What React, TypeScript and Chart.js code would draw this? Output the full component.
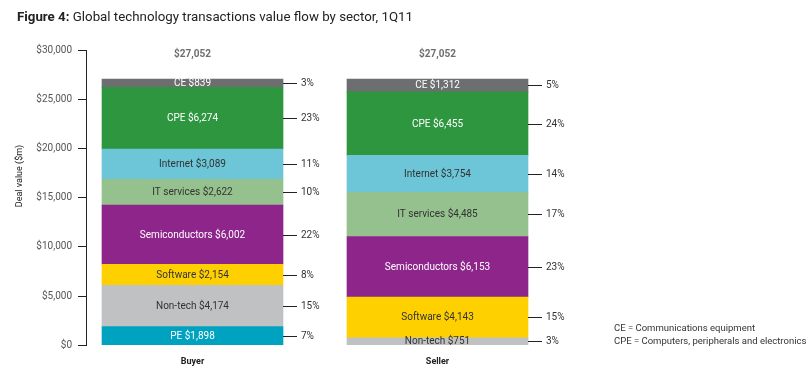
import React, { useEffect, useRef } from 'react';
import { Chart, registerables } from 'chart.js';

Chart.register(...registerables);

// ---- data ----
const sides = ['Buyer', 'Seller'];
const sectorNames = ['PE', 'Non-tech', 'Software', 'Semiconductors', 'IT services', 'Internet', 'CPE', 'CE'];
const peValues = [1898, null];
const nonTechValues = [4174, 751];
const softwareValues = [2154, 4143];
const semisValues = [6002, 6153];
const itServicesValues = [2622, 4485];
const internetValues = [3089, 3754];
const cpeValues = [6274, 6455];
const ceValues = [839, 1312];

const pePct = [7, null];
const nonTechPct = [15, 3];
const softwarePct = [8, 15];
const semisPct = [22, 23];
const itServicesPct = [10, 17];
const internetPct = [11, 14];
const cpePct = [23, 24];
const cePct = [3, 5];

const totals = [27052, 27052];
const yMin = 0;
const yMax = 30000;
const yStep = 5000;

const seriesValues = [peValues, nonTechValues, softwareValues, semisValues, itServicesValues, internetValues, cpeValues, ceValues];
const seriesPct = [pePct, nonTechPct, softwarePct, semisPct, itServicesPct, internetPct, cpePct, cePct];

// ---- styles ----
const fillColors = ['#00a3bf', '#c0c1c3', '#ffd000', '#8e258b', '#94c18d', '#6dc6d8', '#2e963f', '#6d6e70'];
const textColors = ['#ffffff', '#333333', '#333333', '#ffffff', '#333333', '#333333', '#ffffff', '#ffffff'];
const FONT = 'Roboto, "Open Sans", sans-serif';

const fmt = (v: number) => '$' + v.toLocaleString('en-US');

const labelPlugin = {
  id: 'barLabels',
  afterDatasetsDraw(chart: any) {
    const ctx = chart.ctx as CanvasRenderingContext2D;
    ctx.save();
    chart.data.datasets.forEach((ds: any, di: number) => {
      const meta = chart.getDatasetMeta(di);
      meta.data.forEach((bar: any, j: number) => {
        const raw = ds.data[j];
        if (!raw || raw.y == null) return;
        const p = bar.getProps(['x', 'y', 'base', 'width'], true);
        const cy = (p.y + p.base) / 2;
        ctx.font = `10px ${FONT}`;
        ctx.fillStyle = textColors[di];
        ctx.textAlign = 'center';
        ctx.textBaseline = 'middle';
        ctx.fillText(`${sectorNames[di]} ${fmt(raw.y)}`, p.x, cy + 0.5);
        const right = p.x + p.width / 2;
        const ly = Math.round(cy) + 0.5;
        ctx.strokeStyle = '#222222';
        ctx.lineWidth = 1;
        ctx.beginPath();
        ctx.moveTo(right, ly);
        ctx.lineTo(right + 14, ly);
        ctx.stroke();
        const pct = seriesPct[di][raw.x];
        ctx.fillStyle = '#333333';
        ctx.textAlign = 'left';
        ctx.fillText(`${pct}%`, right + 18, cy + 0.5);
      });
    });
    const xs = chart.scales.x;
    const ys = chart.scales.y;
    ctx.font = `bold 10px ${FONT}`;
    ctx.fillStyle = '#6d6e70';
    ctx.textAlign = 'center';
    ctx.textBaseline = 'middle';
    totals.forEach((t, i) => {
      ctx.fillText(fmt(t), xs.getPixelForValue(i), ys.getPixelForValue(yMax) + 4);
    });
    // y-axis title
    ctx.save();
    ctx.translate(20, 176);
    ctx.rotate(-Math.PI / 2);
    ctx.font = `9px ${FONT}`;
    ctx.fillStyle = '#222222';
    ctx.fillText('Deal value ($m)', 0, 0);
    ctx.restore();
    ctx.restore();
  },
};

export default function App() {
  const ref = useRef<HTMLCanvasElement | null>(null);
  useEffect(() => {
    if (!ref.current) return;
    const xMinV = -106.5 / 245;
    const xMaxV = xMinV + 514 / 245;
    const chart = new Chart(ref.current, {
      type: 'bar',
      data: {
        datasets: seriesValues.map((vals, di) => ({
          label: sectorNames[di],
          data: vals
            .map((v, i) => (v == null ? null : { x: i, y: v }))
            .filter((d) => d !== null) as any,
          backgroundColor: fillColors[di],
          borderWidth: 0,
          barThickness: 181,
          grouped: false,
        })),
      },
      options: {
        animation: false,
        responsive: false,
        maintainAspectRatio: false,
        layout: { padding: { top: 50, right: 212, bottom: 6, left: 0 } },
        plugins: {
          legend: { display: false },
          tooltip: { enabled: false },
          title: { display: false },
        },
        scales: {
          x: {
            type: 'linear',
            min: xMinV,
            max: xMaxV,
            offset: false,
            grid: { display: false, drawTicks: false, offset: false },
            border: { display: false },
            ticks: {
              stepSize: 1,
              includeBounds: false,
              padding: 11,
              autoSkip: false,
              maxRotation: 0,
              color: '#222222',
              font: { family: FONT, size: 9, weight: 'bold' },
              callback: (v: any) => {
                const n = Number(v);
                return Number.isInteger(n) && sides[n] ? sides[n] : '';
              },
            },
          },
          y: {
            stacked: true,
            min: yMin,
            max: yMax,
            afterFit: (s: any) => {
              s.width = 86;
            },
            grid: { drawOnChartArea: false, drawTicks: true, tickLength: 8, color: '#222222' },
            border: { display: true, color: '#222222', width: 1 },
            ticks: {
              stepSize: yStep,
              padding: 6,
              color: '#555555',
              font: { family: FONT, size: 10 },
              callback: (v: any) => fmt(Number(v)),
            },
          },
        },
      },
      plugins: [labelPlugin],
    });
    return () => chart.destroy();
  }, []);

  return (
    <div style={{ position: 'fixed', left: 0, top: 0, width: 812, height: 384, background: '#fff' }}>
      <canvas ref={ref} width={812} height={384} style={{ position: 'absolute', left: 0, top: 0, width: 812, height: 384 }} />
      <div
        style={{
          position: 'absolute',
          left: 17,
          top: 9,
          fontFamily: FONT,
          fontSize: 13.3,
          lineHeight: '16px',
          color: '#222',
          whiteSpace: 'nowrap',
        }}
      >
        <b>Figure 4:</b> Global technology transactions value flow by sector, 1Q11
      </div>
      <div
        style={{
          position: 'absolute',
          left: 614,
          top: 321,
          fontFamily: FONT,
          fontSize: 9.5,
          lineHeight: '13px',
          color: '#333',
          whiteSpace: 'nowrap',
        }}
      >
        <div>CE = Communications equipment</div>
        <div>CPE = Computers, peripherals and electronics</div>
      </div>
    </div>
  );
}
